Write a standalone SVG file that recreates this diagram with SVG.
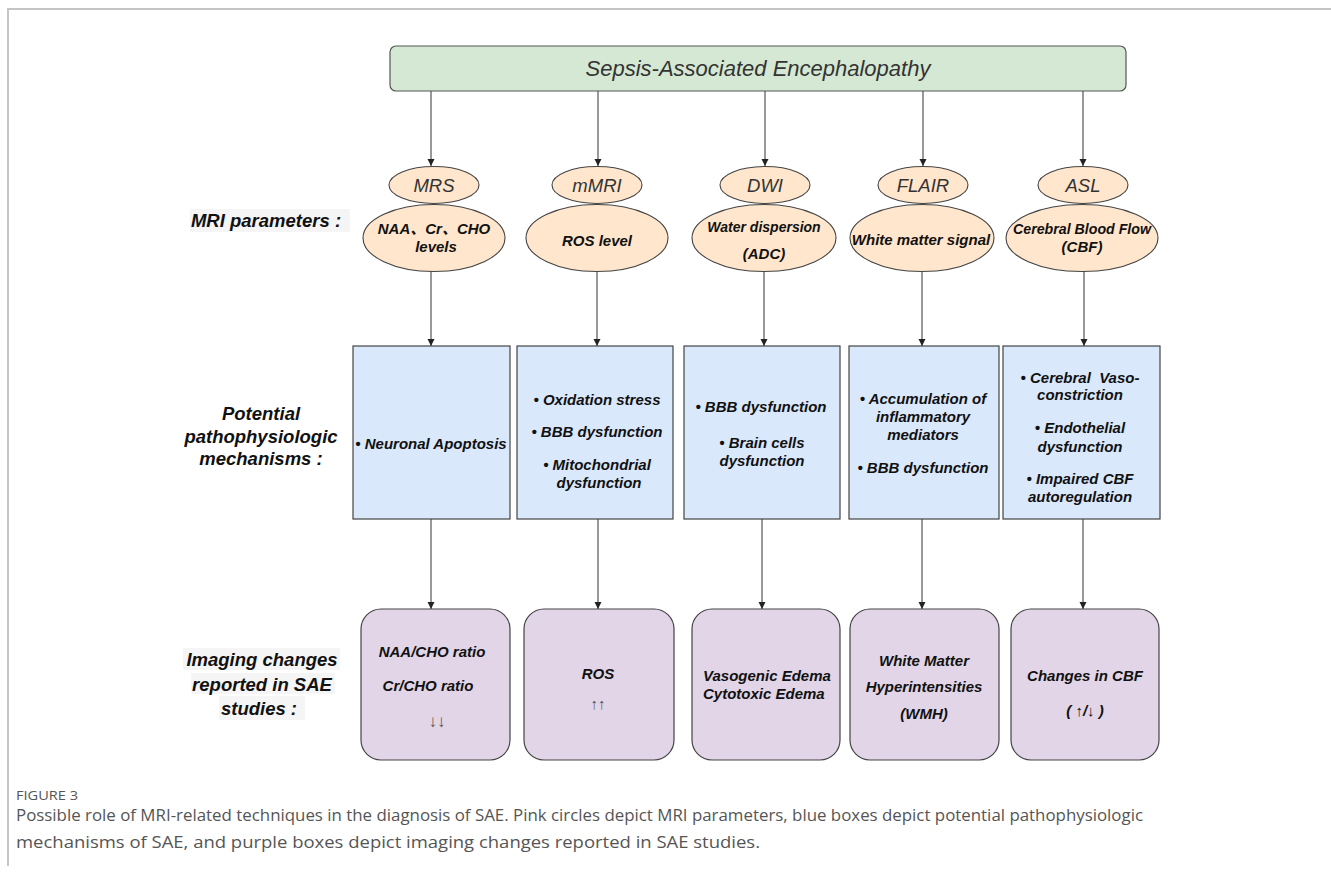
<svg xmlns="http://www.w3.org/2000/svg" width="1331" height="872" viewBox="0 0 1331 872">
<style>
  .frame { stroke: #c4c4c4; stroke-width: 2; fill: none; }
  .top { fill: #d5e8d4; stroke: #555; stroke-width: 1.2; }
  .ell { fill: #ffe6cc; stroke: #444; stroke-width: 1.1; }
  .blue { fill: #dae8fc; stroke: #444; stroke-width: 1.2; }
  .purple { fill: #e1d5e7; stroke: #444; stroke-width: 1.2; }
  .conn { stroke: #333; stroke-width: 1; fill: none; }
  .t { font-family: "Liberation Sans", "Noto Sans CJK SC", sans-serif; text-anchor: middle; }
  .title { font-size: 22px; font-style: italic; fill: #333; }
  .sm { font-size: 18.5px; font-style: italic; fill: #333; }
  .b { font-size: 15px; font-style: italic; font-weight: bold; fill: #111; }
  .lab { font-size: 18.5px; font-style: italic; font-weight: bold; fill: #111; }
  .arr { font-size: 17px; fill: #555; font-style: normal; font-weight: normal; }
  .bg { fill: #f5f5f5; }
  .cap { font-family: "Open Sans", "Noto Sans", sans-serif; fill: #555; }
</style>
<defs>
  <marker id="ah" markerUnits="userSpaceOnUse" markerWidth="8" markerHeight="8" refX="7" refY="3.5" orient="auto">
    <path d="M0,0 L7,3.5 L0,7 z" fill="#222"/>
  </marker>
</defs>
<rect width="1331" height="872" fill="#ffffff"/>
<path class="frame" d="M8,866 L8,9 L1331,9"/>

<g id="labels">
  <rect class="bg" x="190" y="209" width="160" height="23"/>
  <text class="t lab" x="266" y="227">MRI parameters :</text>
  <text class="t lab" x="261" y="420">Potential</text>
  <text class="t lab" x="261" y="443">pathophysiologic</text>
  <text class="t lab" x="261" y="465">mechanisms :</text>
  <rect class="bg" x="183" y="648" width="157" height="22"/>
  <rect class="bg" x="191" y="673" width="144" height="21"/>
  <rect class="bg" x="219" y="696" width="86" height="24"/>
  <text class="t lab" x="262" y="666">Imaging changes</text>
  <text class="t lab" x="262" y="691">reported in SAE</text>
  <text class="t lab" x="259" y="715">studies :</text>
</g>

<g id="connectors">
  <line class="conn" x1="431" y1="91" x2="431" y2="166" marker-end="url(#ah)"/>
  <line class="conn" x1="598" y1="91" x2="598" y2="166" marker-end="url(#ah)"/>
  <line class="conn" x1="765" y1="91" x2="765" y2="166" marker-end="url(#ah)"/>
  <line class="conn" x1="923" y1="91" x2="923" y2="166" marker-end="url(#ah)"/>
  <line class="conn" x1="1083" y1="91" x2="1083" y2="166" marker-end="url(#ah)"/>
  <line class="conn" x1="431" y1="271" x2="431" y2="346" marker-end="url(#ah)"/>
  <line class="conn" x1="597" y1="271" x2="597" y2="346" marker-end="url(#ah)"/>
  <line class="conn" x1="764" y1="271" x2="764" y2="346" marker-end="url(#ah)"/>
  <line class="conn" x1="922" y1="271" x2="922" y2="346" marker-end="url(#ah)"/>
  <line class="conn" x1="1084" y1="271" x2="1084" y2="346" marker-end="url(#ah)"/>
  <line class="conn" x1="431" y1="519" x2="431" y2="609" marker-end="url(#ah)"/>
  <line class="conn" x1="598" y1="519" x2="598" y2="609" marker-end="url(#ah)"/>
  <line class="conn" x1="762" y1="519" x2="762" y2="609" marker-end="url(#ah)"/>
  <line class="conn" x1="922" y1="519" x2="922" y2="609" marker-end="url(#ah)"/>
  <line class="conn" x1="1083" y1="519" x2="1083" y2="609" marker-end="url(#ah)"/>
</g>

<g id="sae">
  <rect class="top" x="390" y="46" width="736" height="45" rx="6"/>
  <text class="t title" x="758" y="76">Sepsis-Associated Encephalopathy</text>
</g>

<g id="mrs">
  <ellipse class="ell" cx="434" cy="185" rx="45" ry="18.5"/>
  <text class="t sm" x="434" y="192">MRS</text>
</g>
<g id="mmri">
  <ellipse class="ell" cx="597" cy="185" rx="45" ry="18.5"/>
  <text class="t sm" x="597" y="192">mMRI</text>
</g>
<g id="dwi">
  <ellipse class="ell" cx="765" cy="185" rx="45" ry="18.5"/>
  <text class="t sm" x="765" y="192">DWI</text>
</g>
<g id="flair">
  <ellipse class="ell" cx="923" cy="185" rx="45" ry="18.5"/>
  <text class="t sm" x="923" y="192">FLAIR</text>
</g>
<g id="asl">
  <ellipse class="ell" cx="1083" cy="185" rx="45" ry="18.5"/>
  <text class="t sm" x="1083" y="192">ASL</text>
</g>

<g id="p-mrs">
  <ellipse class="ell" cx="434" cy="238" rx="71" ry="33.5"/>
  <text class="t b" x="434" y="234">NAA、Cr、CHO</text>
  <text class="t b" x="436" y="252">levels</text>
</g>
<g id="p-mmri">
  <ellipse class="ell" cx="597" cy="238" rx="71" ry="33.5"/>
  <text class="t b" x="597" y="246">ROS level</text>
</g>
<g id="p-dwi">
  <ellipse class="ell" cx="764" cy="238" rx="72" ry="33.5"/>
  <text class="t b" x="764" y="232" style="font-size:14px">Water dispersion</text>
  <text class="t b" x="764" y="259">(ADC)</text>
</g>
<g id="p-flair">
  <ellipse class="ell" cx="922" cy="238" rx="72" ry="33.5"/>
  <text class="t b" x="921" y="245">White matter signal</text>
</g>
<g id="p-asl">
  <ellipse class="ell" cx="1082" cy="238" rx="76" ry="33.5"/>
  <text class="t b" x="1082" y="234" style="font-size:14.2px">Cerebral Blood Flow</text>
  <text class="t b" x="1082" y="252">(CBF)</text>
</g>

<g id="m-mrs">
  <rect class="blue" x="353" y="346" width="157" height="173"/>
  <text class="t b" x="431" y="449">• Neuronal Apoptosis</text>
</g>
<g id="m-mmri">
  <rect class="blue" x="517" y="346" width="156" height="173"/>
  <text class="t b" x="597" y="405">• Oxidation stress</text>
  <text class="t b" x="597" y="437">• BBB dysfunction</text>
  <text class="t b" x="597" y="470">• Mitochondrial</text>
  <text class="t b" x="599" y="488">dysfunction</text>
</g>
<g id="m-dwi">
  <rect class="blue" x="684" y="346" width="156" height="173"/>
  <text class="t b" x="761" y="412">• BBB dysfunction</text>
  <text class="t b" x="762" y="448">• Brain cells</text>
  <text class="t b" x="762" y="466">dysfunction</text>
</g>
<g id="m-flair">
  <rect class="blue" x="849" y="346" width="150" height="173"/>
  <text class="t b" x="923" y="404">• Accumulation of</text>
  <text class="t b" x="923" y="422">inflammatory</text>
  <text class="t b" x="923" y="440">mediators</text>
  <text class="t b" x="923" y="473">• BBB dysfunction</text>
</g>
<g id="m-asl">
  <rect class="blue" x="1003" y="346" width="157" height="173"/>
  <text class="t b" x="1080" y="383" xml:space="preserve">• Cerebral  Vaso-</text>
  <text class="t b" x="1080" y="400">constriction</text>
  <text class="t b" x="1080" y="433">• Endothelial</text>
  <text class="t b" x="1080" y="452">dysfunction</text>
  <text class="t b" x="1080" y="484">• Impaired CBF</text>
  <text class="t b" x="1080" y="502">autoregulation</text>
</g>

<g id="i-mrs">
  <rect class="purple" x="361" y="609" width="149" height="151" rx="20"/>
  <text class="t b" x="432" y="657">NAA/CHO ratio</text>
  <text class="t b" x="428" y="691">Cr/CHO ratio</text>
  <text class="t arr" x="437" y="727">↓↓</text>
</g>
<g id="i-mmri">
  <rect class="purple" x="524" y="609" width="150" height="151" rx="20"/>
  <text class="t b" x="598" y="679">ROS</text>
  <text class="t arr" x="598" y="709" style="font-size:15px">↑↑</text>
</g>
<g id="i-dwi">
  <rect class="purple" x="692" y="609" width="148" height="151" rx="20"/>
  <text class="t b" x="703" y="681" style="text-anchor:start">Vasogenic Edema</text>
  <text class="t b" x="703" y="699" style="text-anchor:start">Cytotoxic Edema</text>
</g>
<g id="i-flair">
  <rect class="purple" x="850" y="609" width="149" height="151" rx="20"/>
  <text class="t b" x="924" y="666">White Matter</text>
  <text class="t b" x="924" y="692">Hyperintensities</text>
  <text class="t b" x="924" y="719">(WMH)</text>
</g>
<g id="i-asl">
  <rect class="purple" x="1011" y="609" width="148" height="151" rx="20"/>
  <text class="t b" x="1085" y="681">Changes in CBF</text>
  <text class="t b" x="1085" y="716" xml:space="preserve">( ↑/↓ )</text>
</g>

<g id="caption">
  <text class="cap" x="16" y="800" style="font-size:12px" textLength="62" lengthAdjust="spacingAndGlyphs">FIGURE 3</text>
  <text class="cap" x="16" y="821" style="font-size:16px" textLength="1127" lengthAdjust="spacingAndGlyphs">Possible role of MRI-related techniques in the diagnosis of SAE. Pink circles depict MRI parameters, blue boxes depict potential pathophysiologic</text>
  <text class="cap" x="16" y="848" style="font-size:16px" textLength="744" lengthAdjust="spacingAndGlyphs">mechanisms of SAE, and purple boxes depict imaging changes reported in SAE studies.</text>
</g>
</svg>
